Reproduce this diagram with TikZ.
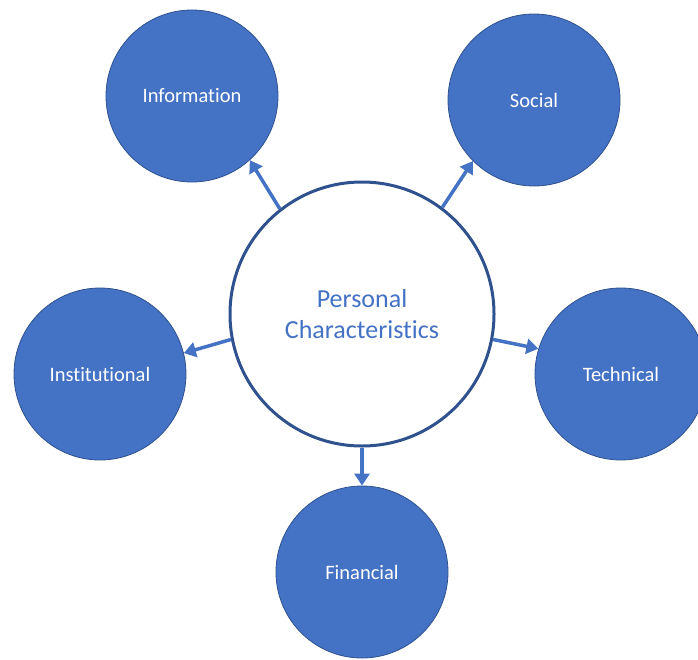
\documentclass[tikz,border=0pt]{standalone}
\usepackage{fontspec}
\setmainfont{Carlito}[Ligatures=NoCommon]
\usetikzlibrary{arrows.meta}
\definecolor{fillblue}{HTML}{4472C4}
\definecolor{edgeblue}{HTML}{2F528F}

\begin{document}
\begin{tikzpicture}[x=1pt,y=1pt,
  factor/.style={circle,draw=edgeblue,line width=0.8pt,fill=fillblue,minimum size=172pt,inner sep=0pt,text=white,font=\fontsize{20.5}{24}\selectfont},
  core/.style={circle,draw=edgeblue,line width=3pt,fill=white,minimum size=264pt,inner sep=0pt,text=fillblue,align=center,font=\fontsize{26}{31}\selectfont},
  link/.style={draw=fillblue,line width=3.5pt,-{Triangle[width=15pt,length=12pt]}}]
\useasboundingbox (0,0) rectangle (698,-659);
\node[core] (pc) at (362,-314) {Personal\\Characteristics};
\node[factor] (info) at (192,-96) {Information};
\node[factor] (soc) at (534,-100) {Social};
\node[factor] (inst) at (100,-374) {Institutional};
\node[factor] (tech) at (621,-374) {Technical};
\node[factor] (fin) at (362,-572) {Financial};
\draw[link] (pc.128) -- (info.-48);
\draw[link] (pc.53) -- (soc.-135);
\draw[link] (pc.191) -- (inst.14);
\draw[link] (pc.-11) -- (tech.163);
\draw[link] (pc.-90) -- (fin.90);
\end{tikzpicture}
\end{document}
